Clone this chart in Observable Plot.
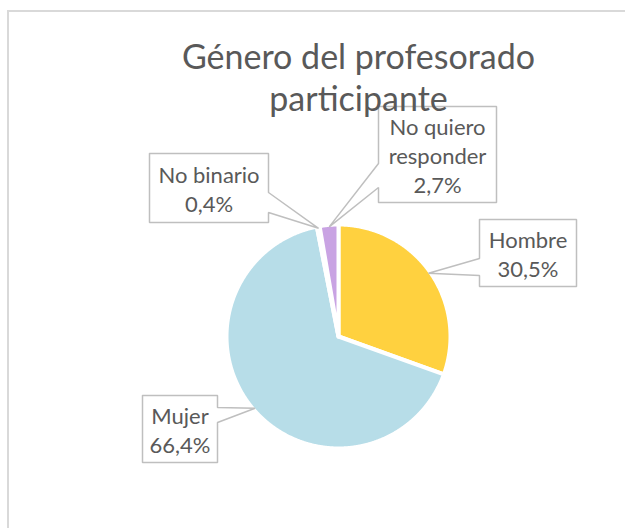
<!DOCTYPE html>
<html><head><meta charset="utf-8">
<script src="https://cdn.jsdelivr.net/npm/d3@7"></script>
<script src="https://cdn.jsdelivr.net/npm/@observablehq/plot@0.6"></script>
<style>
html,body{margin:0;padding:0;width:625px;height:528px;overflow:hidden;background:#fff;}
#frame{position:absolute;left:7px;top:10px;width:700px;height:700px;border-left:2px solid #d9d9d9;border-top:2px solid #d9d9d9;}
#chart{position:absolute;left:0;top:0;}
</style></head><body>
<div id="frame"></div><div id="chart"></div>
<script>
// ---- data ----
const title = "Género del profesorado\nparticipante";
const categories = ["Hombre", "Mujer", "No binario", "No quiero responder"];
const labelNames = ["Hombre", "Mujer", "No binario", "No quiero\nresponder"];
const values = [30.5, 66.4, 0.4, 2.7];
const colors = ["#FFD13F", "#B7DDE8", "#A5A5A5", "#C9A3E3"];

// ---- layout (pixels) ----
const W = 625, H = 528, CX = 338, CY = 336, R = 112, RIM = 110;
const boxes = [
  {x0: 479, x1: 576, y0: 219, y1: 286, side: "left",  wa: 258, wb: 275},
  {x0: 142, x1: 217, y0: 395, y1: 462, side: "right", wa: 407, wb: 422},
  {x0: 149, x1: 268, y0: 153, y1: 222, side: "right", wa: 192, wb: 212},
  {x0: 378, x1: 496, y0: 106, y1: 202, side: "left",  wa: 163, wb: 187}
];
const FONT = "Lato";
const ux = px => (px - CX) / R, uy = py => (CY - py) / R;
const fmt = v => v.toFixed(1).replace(".", ",") + "%";

const arcs = d3.pie().sort(null).value(d => d)(values);

const slicePts = [];
arcs.forEach((a, i) => {
  const cat = categories[i];
  slicePts.push({cat, x: 0, y: 0});
  const n = Math.max(2, Math.ceil((a.endAngle - a.startAngle) / 0.005));
  for (let k = 0; k <= n; k++) {
    const t = a.startAngle + (a.endAngle - a.startAngle) * k / n;
    slicePts.push({cat, x: Math.sin(t), y: Math.cos(t)});
  }
  slicePts.push({cat, x: 0, y: 0});
});

const calloutPts = [];
const labelRows = [];
arcs.forEach((a, i) => {
  const cat = categories[i];
  const b = boxes[i], m = (a.startAngle + a.endAngle) / 2, r = RIM / R;
  const tip = [r * Math.sin(m), r * Math.cos(m)];
  let pts;
  if (b.side === "left")
    pts = [[b.x0,b.y0],[b.x1,b.y0],[b.x1,b.y1],[b.x0,b.y1],[b.x0,b.wb],null,[b.x0,b.wa],[b.x0,b.y0]];
  else
    pts = [[b.x0,b.y0],[b.x1,b.y0],[b.x1,b.wa],null,[b.x1,b.wb],[b.x1,b.y1],[b.x0,b.y1],[b.x0,b.y0]];
  pts.forEach(p => calloutPts.push(p ? {cat, x: ux(p[0]), y: uy(p[1])} : {cat, x: tip[0], y: tip[1]}));
  labelRows.push({cat, text: labelNames[i] + "\n" + fmt(values[i]),
    x: ux((b.x0 + b.x1) / 2), y: uy((b.y0 + b.y1) / 2 + 0.5)});
});

const plot = Plot.plot({
  width: W, height: H, margin: 0,
  x: {domain: [ux(0), ux(W)], axis: null},
  y: {domain: [uy(H), uy(0)], axis: null},
  color: {domain: categories, range: colors},
  style: {background: "transparent", overflow: "visible"},
  marks: [
    Plot.line(slicePts, {x: "x", y: "y", z: "cat", fill: "cat", stroke: "white", strokeWidth: 4, curve: "linear"}),
    Plot.line(calloutPts, {x: "x", y: "y", z: "cat", stroke: "#BFBFBF", strokeWidth: 1.5, fill: "none", strokeLinejoin: "miter", curve: "linear"}),
    Plot.text(labelRows, {x: "x", y: "y", text: "text", fill: "#595959", fontSize: 22, lineHeight: 29 / 22, fontFamily: FONT}),
    Plot.text([title], {x: ux(358), y: uy(76), text: d => d, fill: "#595959", fontSize: 34, lineHeight: 42 / 34, fontFamily: FONT})
  ]
});
document.getElementById("chart").appendChild(plot);
</script>
</body></html>
